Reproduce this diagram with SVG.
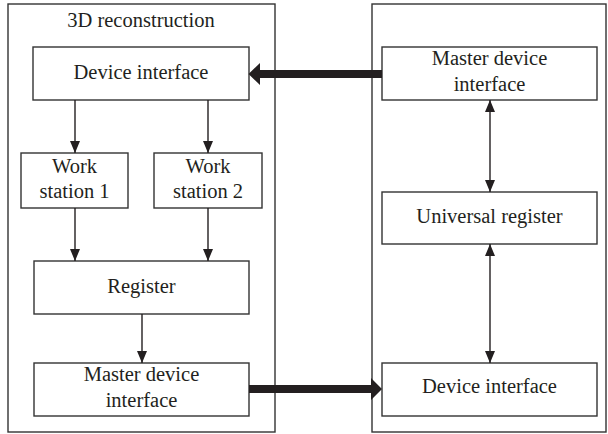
<svg xmlns="http://www.w3.org/2000/svg" width="608" height="434" viewBox="0 0 608 434">
<style>
.box{fill:#fff;stroke:#333;stroke-width:1.4}
.frame{fill:none;stroke:#333;stroke-width:1.4}
.t{font-family:"Liberation Serif","Times New Roman",serif;font-size:20.5px;fill:#231f20;text-anchor:middle}
.ln{stroke:#231f20;stroke-width:1.4;fill:none}
.thick{fill:#231f20}
</style>
<defs>
<marker id="ah" markerUnits="userSpaceOnUse" viewBox="0 0 12 10" refX="12" refY="5" markerWidth="12" markerHeight="10" orient="auto-start-reverse">
<path d="M0,0 L12,5 L0,10 Z" fill="#231f20"/>
</marker>
</defs>
<g id="frame-left">
<rect class="frame" x="8" y="4" width="267" height="428"/>
<text class="t" x="141" y="27">3D reconstruction</text>
</g>
<g id="frame-right">
<rect class="frame" x="372" y="4" width="234" height="428"/>
</g>
<g id="device-interface-left">
<rect class="box" x="33" y="47" width="216" height="53"/>
<text class="t" x="141" y="79">Device interface</text>
</g>
<g id="work-station-1">
<rect class="box" x="21" y="153" width="107" height="55"/>
<text class="t" x="74.5" y="173">Work</text>
<text class="t" x="74.5" y="198">station 1</text>
</g>
<g id="work-station-2">
<rect class="box" x="154" y="153" width="108" height="55"/>
<text class="t" x="208" y="173">Work</text>
<text class="t" x="208" y="198">station 2</text>
</g>
<g id="register">
<rect class="box" x="34" y="261" width="215" height="53"/>
<text class="t" x="141.5" y="293">Register</text>
</g>
<g id="master-device-interface-left">
<rect class="box" x="34" y="363" width="215" height="53"/>
<text class="t" x="141.5" y="381">Master device</text>
<text class="t" x="141.5" y="407">interface</text>
</g>
<g id="master-device-interface-right">
<rect class="box" x="382" y="47" width="215" height="53"/>
<text class="t" x="489.5" y="65">Master device</text>
<text class="t" x="489.5" y="91">interface</text>
</g>
<g id="universal-register">
<rect class="box" x="382" y="192" width="215" height="52"/>
<text class="t" x="489.5" y="223">Universal register</text>
</g>
<g id="device-interface-right">
<rect class="box" x="382" y="363" width="215" height="53"/>
<text class="t" x="489.5" y="393">Device interface</text>
</g>
<g id="connectors">
<line class="ln" x1="75" y1="100" x2="75" y2="153" marker-end="url(#ah)"/>
<line class="ln" x1="208" y1="100" x2="208" y2="153" marker-end="url(#ah)"/>
<line class="ln" x1="75" y1="208" x2="75" y2="261" marker-end="url(#ah)"/>
<line class="ln" x1="208" y1="208" x2="208" y2="261" marker-end="url(#ah)"/>
<line class="ln" x1="142" y1="314" x2="142" y2="363" marker-end="url(#ah)"/>
<line class="ln" x1="490" y1="100" x2="490" y2="192" marker-start="url(#ah)" marker-end="url(#ah)"/>
<line class="ln" x1="490" y1="244" x2="490" y2="363" marker-start="url(#ah)" marker-end="url(#ah)"/>
<path class="thick" d="M382,70 L260,70 L260,63 L248.5,74 L260,85 L260,78 L382,78 Z"/>
<path class="thick" d="M249,385 L371,385 L371,378 L382,389 L371,400 L371,393 L249,393 Z"/>
</g>
</svg>
